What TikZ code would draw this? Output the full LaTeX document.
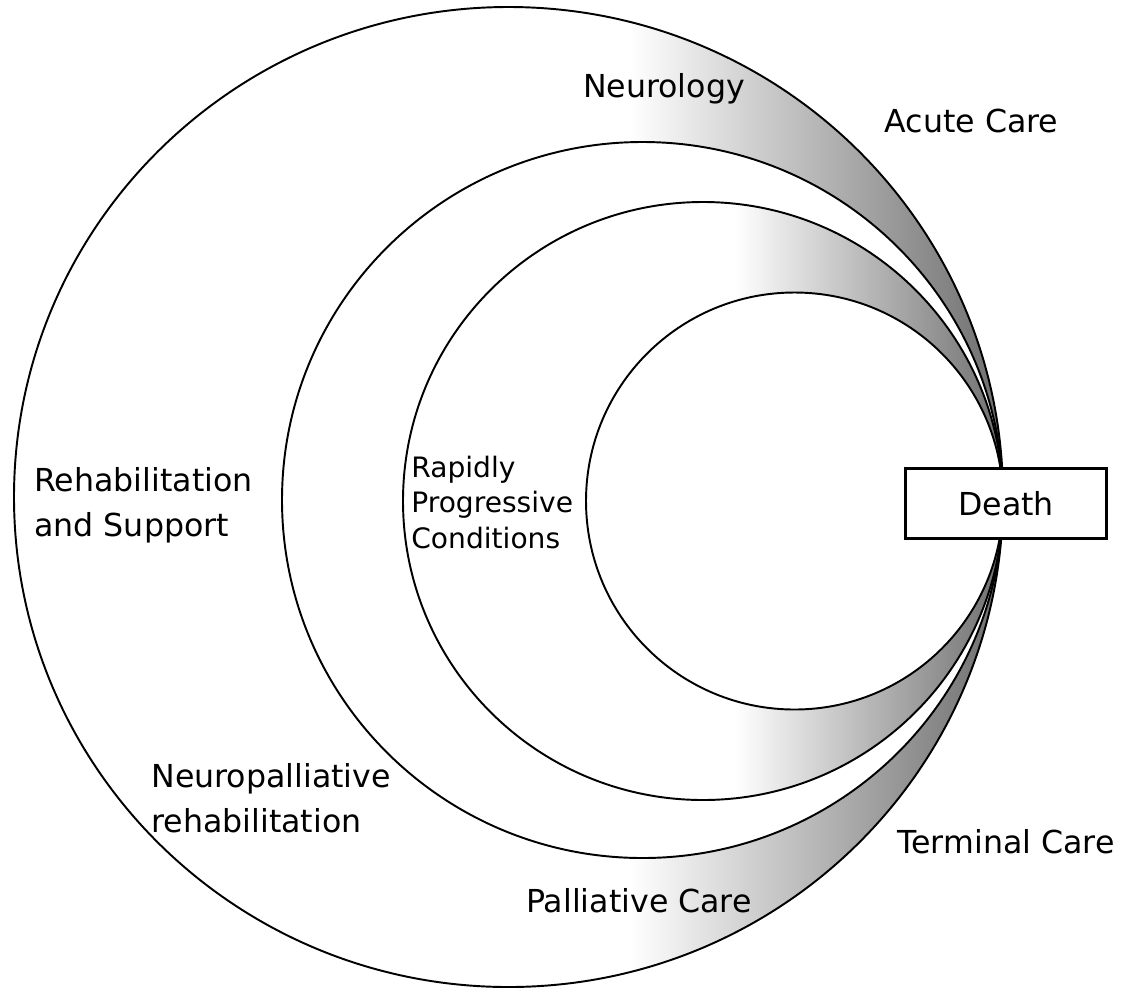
\documentclass[tikz,border=0pt]{standalone}
\usepackage{fontspec}
\setmainfont{DejaVu Sans}

\begin{document}
\begin{tikzpicture}[x=0.02cm,y=-0.02cm,
    ring/.style={line width=1.1pt},
    band/.style={left color=white,right color=black!58},
    lbl/.style={inner sep=0pt,font=\fontsize{18}{25.6}\selectfont},
    small/.style={inner sep=0pt,font=\fontsize{16}{20.2}\selectfont},
    deathbox/.style={draw,line width=2.2pt,fill=white,minimum width=4.02cm,
      minimum height=1.4cm,inner sep=0pt,font=\fontsize{18}{22}\selectfont}]
  \useasboundingbox (0,0) rectangle (1128,988);
  % shaded bands towards death
  \begin{scope}[even odd rule]
    \clip (508.5,497) ellipse [x radius=494.5,y radius=490]
      (642.5,500) ellipse [x radius=360.5,y radius=358];
    \shade[band] (630,0) rectangle (1010,988);
  \end{scope}
  \begin{scope}[even odd rule]
    \clip (703,501) ellipse [x radius=300,y radius=299]
      (794.5,501) ellipse [x radius=208.5,y radius=208.5];
    \shade[band] (735,0) rectangle (1010,988);
  \end{scope}
  % the four rings
  \foreach \cx/\cy/\rx/\ry in {508.5/497/494.5/490,642.5/500/360.5/358,
      703/501/300/299,794.5/501/208.5/208.5}
    \draw[ring] (\cx,\cy) ellipse [x radius=\rx,y radius=\ry];
  \node[deathbox] (death) at (1006,503.5) {Death};
  % labels
  \node[lbl,anchor=base] (neuro) at (664,97) {Neurology};
  \node[lbl,anchor=base] (acute) at (971.5,132) {Acute Care};
  \node[lbl,anchor=base west,align=left] (rehab) at (34,536) {Rehabilitation\\and Support};
  \node[small,anchor=base west,align=left] (rapid) at (411,548) {Rapidly\\Progressive\\Conditions};
  \node[lbl,anchor=base west,align=left] (neuropal) at (151,832) {Neuropalliative\\rehabilitation};
  \node[lbl,anchor=base] (palli) at (639,912) {Palliative Care};
  \node[lbl,anchor=base] (terminal) at (1006,853) {Terminal Care};
\end{tikzpicture}
\end{document}
